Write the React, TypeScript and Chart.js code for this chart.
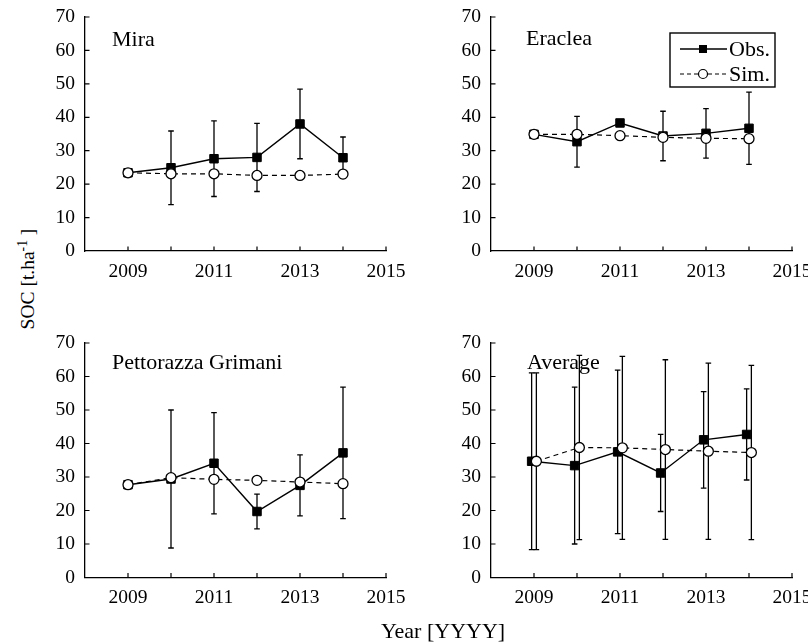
import React, { useEffect, useRef } from "react";
import { Chart, registerables } from "chart.js";

Chart.register(...registerables);

// ---------------- data ----------------
const years = [2009, 2010, 2011, 2012, 2013, 2014];
const xLabelYears = [2009, 2011, 2013, 2015];
const yTickValues = [0, 10, 20, 30, 40, 50, 60, 70];

const miraObs = [23.4, 24.9, 27.6, 28.0, 38.0, 27.9];
const miraObsErr = [0, 11.0, 11.3, 10.2, 10.4, 6.2];
const miraSim = [23.4, 23.1, 23.1, 22.6, 22.6, 23.0];

const eracleaObs = [34.9, 32.7, 38.3, 34.4, 35.2, 36.7];
const eracleaObsErr = [0, 7.6, 0.8, 7.4, 7.4, 10.8];
const eracleaSim = [34.9, 34.9, 34.5, 34.0, 33.7, 33.6];

const pettObs = [27.7, 29.4, 34.1, 19.7, 27.5, 37.2];
const pettObsErr = [0, 20.6, 15.1, 5.2, 9.1, 19.6];
const pettSim = [27.7, 29.8, 29.3, 29.0, 28.5, 28.0];

const avgObs = [34.7, 33.4, 37.5, 31.2, 41.1, 42.7];
const avgObsErr = [26.4, 23.4, 24.4, 11.5, 14.4, 13.6];
const avgSim = [34.7, 38.8, 38.7, 38.2, 37.7, 37.3];
const avgSimErr = [26.4, 27.5, 27.3, 26.8, 26.3, 26.0];

const FONT = '"Liberation Serif", "Times New Roman", serif';

type PanelDef = {
  title: string;
  obs: number[];
  obsErr: number[] | null;
  sim: number[];
  simErr: number[] | null;
  offset: number;
  left: number;
  top: number;
  width: number;
  height: number;
  padTop: number;
  padRight: number;
  xAxisH: number;
  titleDx: number;
  titleDy: number;
  legend: boolean;
};

const panels: PanelDef[] = [
  {
    title: "Mira", obs: miraObs, obsErr: miraObsErr, sim: miraSim, simErr: null, offset: 0,
    left: 40, top: 0, width: 370, height: 295, padTop: 17, padRight: 24, xAxisH: 44,
    titleDx: 27, titleDy: 28.5, legend: false,
  },
  {
    title: "Eraclea", obs: eracleaObs, obsErr: eracleaObsErr, sim: eracleaSim, simErr: null, offset: 0,
    left: 446, top: 0, width: 362, height: 295, padTop: 17, padRight: 16, xAxisH: 44,
    titleDx: 35, titleDy: 28, legend: true,
  },
  {
    title: "Pettorazza Grimani", obs: pettObs, obsErr: pettObsErr, sim: pettSim, simErr: null, offset: 0,
    left: 40, top: 320, width: 370, height: 300, padTop: 23, padRight: 24, xAxisH: 42.5,
    titleDx: 27, titleDy: 25.5, legend: false,
  },
  {
    title: "Average", obs: avgObs, obsErr: avgObsErr, sim: avgSim, simErr: avgSimErr, offset: 0.055,
    left: 446, top: 320, width: 362, height: 300, padTop: 23, padRight: 16, xAxisH: 42.5,
    titleDx: 36, titleDy: 25.5, legend: false,
  },
];

// ---------------- plugins ----------------
const errorBarPlugin = {
  id: "errorBars",
  beforeDatasetsDraw(chart: any) {
    const ctx = chart.ctx;
    const ys = chart.scales.y;
    const cap = 2.8;
    chart.data.datasets.forEach((ds: any, i: number) => {
      const errs = ds.errors;
      if (!errs) return;
      const meta = chart.getDatasetMeta(i);
      meta.data.forEach((el: any, j: number) => {
        const e = errs[j];
        if (!e) return;
        const v = ds.data[j].y;
        const x = el.x;
        const t = ys.getPixelForValue(v + e);
        const b = ys.getPixelForValue(v - e);
        ctx.save();
        ctx.strokeStyle = "#000";
        ctx.lineWidth = 1.3;
        ctx.beginPath();
        ctx.moveTo(x, t);
        ctx.lineTo(x, b);
        ctx.moveTo(x - cap, t);
        ctx.lineTo(x + cap, t);
        ctx.moveTo(x - cap, b);
        ctx.lineTo(x + cap, b);
        ctx.stroke();
        ctx.restore();
      });
    });
  },
};

const inwardTicksPlugin = {
  id: "inwardTicks",
  afterDraw(chart: any) {
    const ctx = chart.ctx;
    const a = chart.chartArea;
    const xs = chart.scales.x;
    const ys = chart.scales.y;
    const len = 4.5;
    ctx.save();
    ctx.strokeStyle = "#000";
    ctx.lineWidth = 1.2;
    ctx.beginPath();
    for (let v = 2009; v <= 2015; v++) {
      const px = xs.getPixelForValue(v);
      ctx.moveTo(px, a.bottom);
      ctx.lineTo(px, a.bottom - len);
    }
    yTickValues.forEach((v) => {
      if (v === 0) return;
      const py = ys.getPixelForValue(v);
      ctx.moveTo(a.left, py);
      ctx.lineTo(a.left + len, py);
    });
    ctx.stroke();
    ctx.restore();
  },
};

function makeTitlePlugin(p: PanelDef) {
  return {
    id: "panelTitle",
    afterDraw(chart: any) {
      const ctx = chart.ctx;
      const a = chart.chartArea;
      ctx.save();
      ctx.fillStyle = "#000";
      ctx.font = `22px ${FONT}`;
      ctx.textAlign = "left";
      ctx.textBaseline = "alphabetic";
      ctx.fillText(p.title, a.left + p.titleDx, a.top + p.titleDy);
      ctx.restore();
    },
  };
}

function makeLegendPlugin(p: PanelDef) {
  return {
    id: "boxLegend",
    afterDraw(chart: any) {
      if (!p.legend) return;
      const ctx = chart.ctx;
      const a = chart.chartArea;
      const bx = a.left + 179;
      const by = a.top + 16;
      const bw = 105;
      const bh = 54;
      ctx.save();
      ctx.fillStyle = "#fff";
      ctx.fillRect(bx, by, bw, bh);
      ctx.strokeStyle = "#000";
      ctx.lineWidth = 1.4;
      ctx.strokeRect(bx, by, bw, bh);
      // Obs row
      const r1 = by + 16;
      ctx.lineWidth = 1.3;
      ctx.setLineDash([]);
      ctx.beginPath();
      ctx.moveTo(bx + 10, r1);
      ctx.lineTo(bx + 57, r1);
      ctx.stroke();
      ctx.fillStyle = "#000";
      ctx.fillRect(bx + 33 - 4, r1 - 4, 8, 8);
      // Sim row
      const r2 = by + 41;
      ctx.setLineDash([4, 3]);
      ctx.lineWidth = 1.1;
      ctx.beginPath();
      ctx.moveTo(bx + 10, r2);
      ctx.lineTo(bx + 57, r2);
      ctx.stroke();
      ctx.setLineDash([]);
      ctx.beginPath();
      ctx.arc(bx + 33, r2, 4.5, 0, Math.PI * 2);
      ctx.fillStyle = "#fff";
      ctx.fill();
      ctx.lineWidth = 1.2;
      ctx.stroke();
      // texts
      ctx.fillStyle = "#000";
      ctx.font = `22px ${FONT}`;
      ctx.textAlign = "left";
      ctx.textBaseline = "middle";
      ctx.fillText(chart.data.datasets[1].label, bx + 59, r1 + 1);
      ctx.fillText(chart.data.datasets[0].label, bx + 59, r2 + 1);
      ctx.restore();
    },
  };
}

function buildConfig(p: PanelDef): any {
  const simData = years.map((yr, i) => ({ x: yr + p.offset, y: p.sim[i] }));
  const obsData = years.map((yr, i) => ({ x: yr - p.offset, y: p.obs[i] }));
  return {
    type: "line",
    data: {
      datasets: [
        {
          label: "Sim.",
          data: simData,
          errors: p.simErr,
          borderColor: "#000",
          borderWidth: 1.2,
          borderDash: [5, 4],
          pointStyle: "circle",
          pointRadius: 5,
          pointBackgroundColor: "#fff",
          pointBorderColor: "#000",
          pointBorderWidth: 1.3,
          fill: false,
          tension: 0,
          clip: false,
        },
        {
          label: "Obs.",
          data: obsData,
          errors: p.obsErr,
          borderColor: "#000",
          borderWidth: 1.4,
          pointStyle: "rect",
          pointRadius: 6,
          pointBackgroundColor: "#000",
          pointBorderColor: "#000",
          pointBorderWidth: 1,
          fill: false,
          tension: 0,
          clip: false,
        },
      ],
    },
    options: {
      responsive: false,
      animation: false,
      events: [],
      layout: { padding: { top: p.padTop, right: p.padRight, left: 0, bottom: 0 } },
      plugins: { legend: { display: false }, tooltip: { enabled: false }, title: { display: false } },
      scales: {
        x: {
          type: "linear",
          min: 2008,
          max: 2015,
          afterBuildTicks: (s: any) => {
            const t = [];
            for (let v = 2008; v <= 2015; v++) t.push({ value: v });
            s.ticks = t;
          },
          ticks: {
            autoSkip: false,
            maxRotation: 0,
            padding: 9,
            color: "#000",
            font: { family: FONT, size: 19.5 },
            callback: (v: any) => (xLabelYears.includes(Number(v)) ? String(v) : ""),
          },
          grid: { display: false, drawTicks: false },
          border: { display: true, color: "#000", width: 1.3 },
          afterFit: (s: any) => {
            s.height = p.xAxisH;
            s.paddingLeft = 0;
            s.paddingRight = 0;
          },
        },
        y: {
          type: "linear",
          min: 0,
          max: 70,
          afterBuildTicks: (s: any) => {
            s.ticks = yTickValues.map((v) => ({ value: v }));
          },
          ticks: {
            padding: 10,
            color: "#000",
            font: { family: FONT, size: 19.5 },
          },
          grid: { display: false, drawTicks: false },
          border: { display: true, color: "#000", width: 1.3 },
          afterFit: (s: any) => {
            s.width = 45;
            s.paddingTop = 0;
            s.paddingBottom = 0;
          },
        },
      },
    },
    plugins: [errorBarPlugin, inwardTicksPlugin, makeTitlePlugin(p), makeLegendPlugin(p)],
  };
}

function Panel({ p }: { p: PanelDef }) {
  const ref = useRef<HTMLCanvasElement | null>(null);
  useEffect(() => {
    if (!ref.current) return;
    const chart = new Chart(ref.current, buildConfig(p));
    return () => chart.destroy();
  }, [p]);
  return (
    <canvas
      ref={ref}
      width={p.width}
      height={p.height}
      style={{ position: "absolute", left: p.left, top: p.top, width: p.width, height: p.height }}
    />
  );
}

export default function App() {
  return (
    <div
      style={{
        position: "absolute",
        left: 0,
        top: 0,
        width: 808,
        height: 644,
        overflow: "hidden",
        background: "#fff",
        fontFamily: FONT,
        color: "#000",
      }}
    >
      {panels.map((p) => (
        <Panel key={p.title} p={p} />
      ))}
      <div
        style={{
          position: "absolute",
          left: 28,
          top: 279,
          transform: "translate(-50%, -50%) rotate(-90deg)",
          fontSize: 19.5,
          whiteSpace: "nowrap",
          lineHeight: 1,
        }}
      >
        SOC [t.ha<sup style={{ fontSize: "0.7em", lineHeight: 0 }}>-1</sup> ]
      </div>
      <div
        style={{
          position: "absolute",
          left: 443,
          top: 631,
          transform: "translate(-50%, -50%)",
          fontSize: 22,
          whiteSpace: "nowrap",
          lineHeight: 1,
        }}
      >
        Year [YYYY]
      </div>
    </div>
  );
}
